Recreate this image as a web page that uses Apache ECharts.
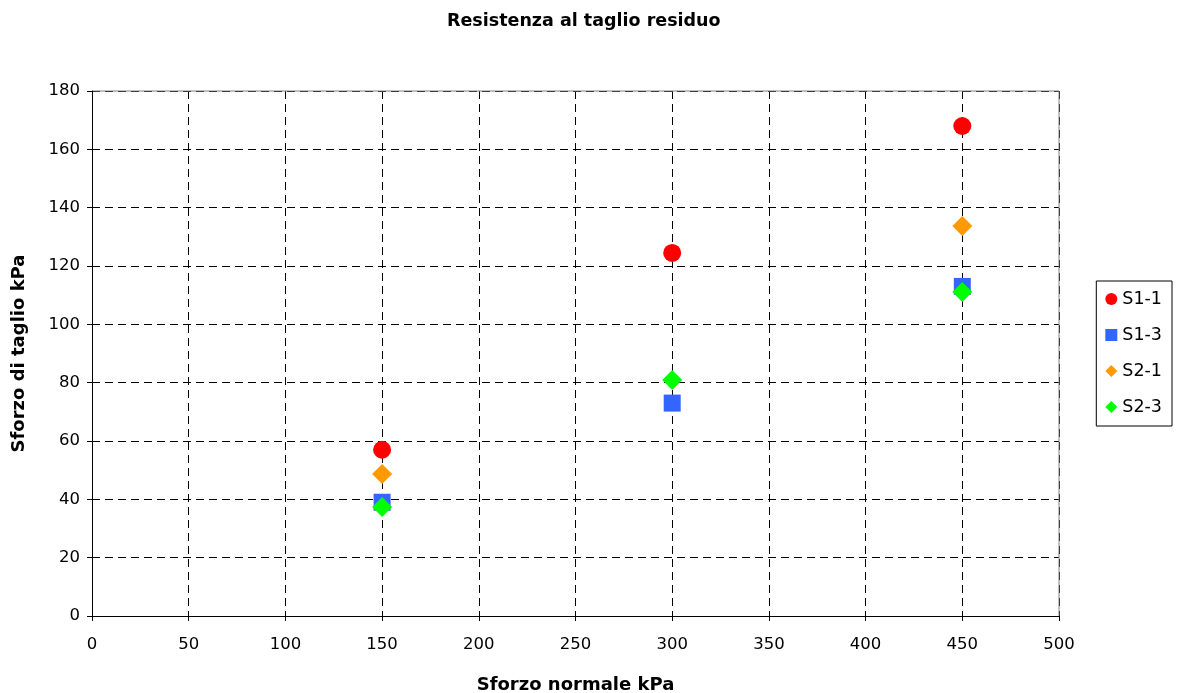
<!DOCTYPE html>
<html>
<head>
<meta charset="utf-8">
<script src="https://cdn.jsdelivr.net/npm/echarts@6/dist/echarts.min.js"></script>
<style>
  html, body { margin: 0; padding: 0; background: #fff; }
  #chart { width: 1178px; height: 693px; }
</style>
</head>
<body>
<div id="chart"></div>
<script>
// Normal stress (kPa) at which each residual shear test was run
const normalStress = [150, 300, 450];

// Residual shear strength (kPa) for each sample
const s1_1 = [57, 124.5, 168];
const s1_3 = [39, 73, 113];
const s2_1 = [48.7, null, 133.7];
const s2_3 = [37.4, 80.9, 111.1];

const seriesNames = ['S1-1', 'S1-3', 'S2-1', 'S2-3'];
const seriesValues = [s1_1, s1_3, s2_1, s2_3];
const seriesColors = ['#ff0000', '#3366ff', '#ff9900', '#00ff00'];
const seriesSymbols = ['circle', 'rect', 'diamond', 'diamond'];
const symbolSizes = [18, 17, [20, 20], [20, 20]];

const font = 'DejaVu Sans, Liberation Sans, sans-serif';

function pairs(values) {
  return normalStress.map((x, i) => [x, values[i]]).filter(p => p[1] != null);
}

const chart = echarts.init(document.getElementById('chart'));
chart.setOption({
  animation: false,
  backgroundColor: '#ffffff',
  title: {
    text: 'Resistenza al taglio residuo',
    left: 442,
    top: 7,
    textStyle: { fontFamily: font, fontSize: 17.5, fontWeight: 'bold', color: '#000' }
  },
  grid: { left: 92, right: 119, top: 91, bottom: 77, outerBoundsMode: 'none', containLabel: false },
  legend: {
    orient: 'vertical',
    right: 6,
    top: 281,
    padding: [9, 10, 10, 9],
    itemGap: 18,
    itemWidth: 12,
    itemHeight: 12,
    borderColor: '#000',
    borderWidth: 1,
    textStyle: { fontFamily: font, fontSize: 17.5, color: '#000' },
    data: seriesNames.map((n, i) => ({
      name: n,
      icon: seriesSymbols[i],
      itemStyle: { color: seriesColors[i] }
    }))
  },
  xAxis: {
    type: 'value',
    min: 0, max: 500, interval: 50,
    name: 'Sforzo normale kPa',
    nameLocation: 'middle',
    nameGap: 60,
    nameTextStyle: { fontFamily: font, fontSize: 18, fontWeight: 'bold', color: '#000' },
    axisLine: { show: true, onZero: false, lineStyle: { color: '#000', width: 1 } },
    axisTick: { show: true, length: 5, lineStyle: { color: '#000' } },
    axisLabel: { fontFamily: font, fontSize: 16.5, color: '#000', margin: 20 },
    splitLine: { show: true, lineStyle: { color: '#000', type: [8, 5], width: 1 } }
  },
  yAxis: {
    type: 'value',
    min: 0, max: 180, interval: 20,
    name: 'Sforzo di taglio kPa',
    nameLocation: 'middle',
    nameGap: 64,
    nameTextStyle: { fontFamily: font, fontSize: 18, fontWeight: 'bold', color: '#000' },
    axisLine: { show: true, lineStyle: { color: '#000', width: 1 } },
    axisTick: { show: true, length: 5, lineStyle: { color: '#000' } },
    axisLabel: { fontFamily: font, fontSize: 16.5, color: '#000', margin: 12 },
    splitLine: { show: true, lineStyle: { color: '#000', type: [8, 5], width: 1 } }
  },
  series: seriesNames.map((n, i) => ({
    name: n,
    type: 'scatter',
    symbol: seriesSymbols[i],
    symbolSize: symbolSizes[i],
    itemStyle: { color: seriesColors[i], opacity: 1 },
    data: pairs(seriesValues[i]),
    z: 2 + i
  }))
});

// Grey frame on the top and right edges of the plot area
chart.setOption({
  graphic: [{
    type: 'polyline',
    shape: { points: [[92, 91], [1059, 91], [1059, 616]] },
    style: { stroke: '#808080', lineWidth: 1, fill: null },
    silent: true
  }]
});
</script>
</body>
</html>
